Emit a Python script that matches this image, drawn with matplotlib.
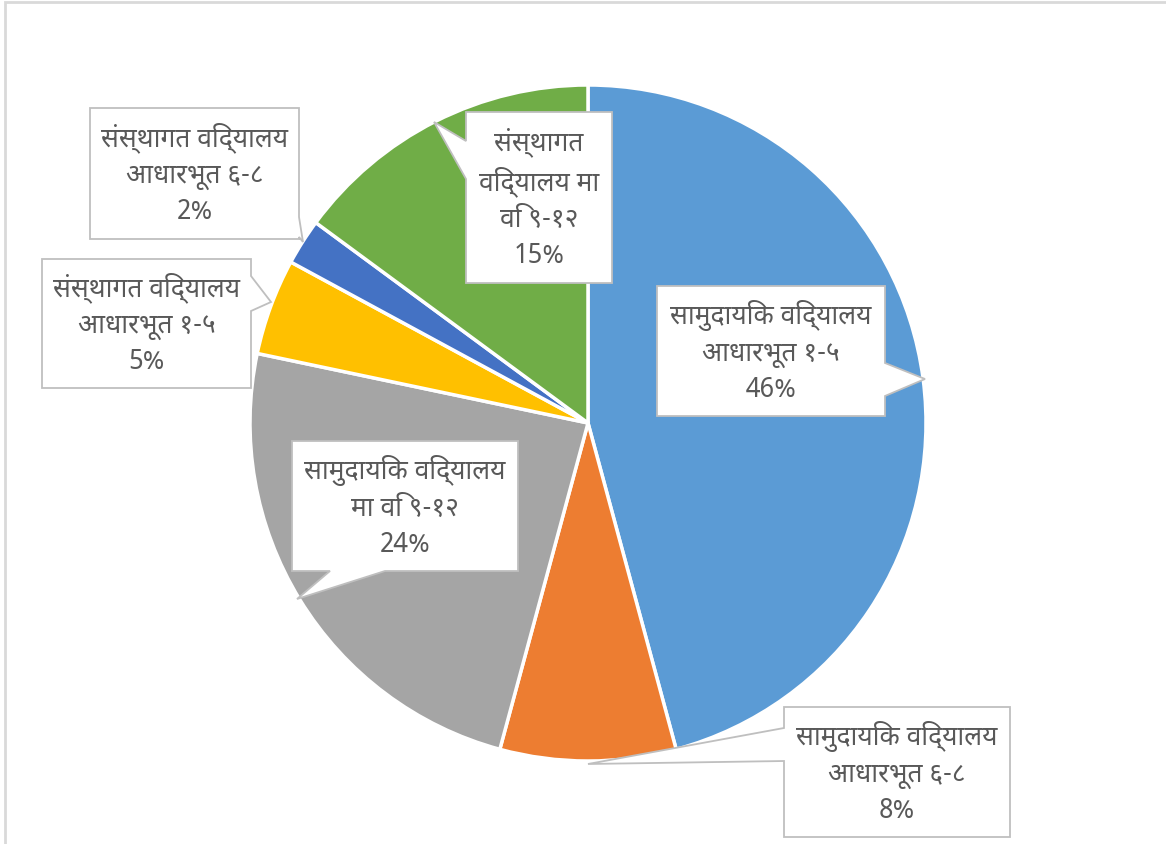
import os
import matplotlib
matplotlib.use("Agg")
import matplotlib.pyplot as plt
from matplotlib import font_manager
from matplotlib.patches import Polygon, Rectangle

# school categories and their share
labels = ["सामुदायिक विद्यालय\nआधारभूत १-५",
          "सामुदायिक विद्यालय\nआधारभूत ६-८",
          "सामुदायिक विद्यालय\nमा वि ९-१२",
          "संस्थागत विद्यालय\nआधारभूत १-५",
          "संस्थागत विद्यालय\nआधारभूत ६-८",
          "संस्थागत\nविद्यालय मा\nवि ९-१२"]
values = [45.8, 8.4, 24.1, 4.6, 2.2, 14.9]
colors = ["#5B9BD5", "#ED7D31", "#A5A5A5", "#FFC000", "#4472C4", "#70AD47"]

# find a font that has devanagari glyphs
deva_family = "DejaVu Sans"
all_fonts = font_manager.findSystemFonts()
for pref in ["NotoSansDevanagari-Regular", "NotoSansDevanagari[", "NotoSansDevanagariUI-Regular",
             "Mukta-Regular", "Hind-Regular", "Khula-Regular", "Palanquin-Regular"]:
    hits = [f for f in all_fonts if os.path.basename(f).startswith(pref)]
    if hits:
        font_manager.fontManager.addfont(hits[0])
        deva_family = font_manager.FontProperties(fname=hits[0]).get_name()
        break

W, H = 1166, 845
fig = plt.figure(figsize=(W / 100, H / 100), dpi=100)
ax = fig.add_axes([0, 0, 1, 1])

def py(y):
    # pixel row -> data y
    return H - y

ax.pie(values, colors=colors, startangle=90, counterclock=False,
       center=(588, py(424)), radius=338,
       wedgeprops=dict(edgecolor="white", linewidth=2.5))
ax.set_xlim(0, W)
ax.set_ylim(0, H)
ax.set_aspect("equal")
ax.axis("off")

# chart border (only left/top visible)
ax.add_patch(Rectangle((5, py(900)), 1300, 897, fill=False, edgecolor="#D9D9D9", linewidth=2, clip_on=True))

# callout boxes: box (x0, y0, x1, y1), side with pointer, pointer base, tip
callouts = [
    ((657, 287, 885, 417), "right", (364, 397), (925, 380)),
    ((784, 708, 1010, 838), "left", (729, 762), (588, 765)),
    ((292, 442, 518, 572), "bottom", (330, 385), (297, 600)),
    ((42, 260, 251, 389), "right", (277, 312), (271, 303)),
    ((90, 109, 299, 240), "right", (218, 238), (303, 243)),
    ((466, 113, 612, 284), "left", (142, 180), (434, 123)),
]

def callout_shape(box, side, base, tip):
    x0, y0, x1, y1 = box
    b0, b1 = base
    if side == "right":
        pts = [(x0, y0), (x1, y0), (x1, b0), tip, (x1, b1), (x1, y1), (x0, y1)]
    elif side == "left":
        pts = [(x0, y0), (x1, y0), (x1, y1), (x0, y1), (x0, b1), tip, (x0, b0)]
    else:
        pts = [(x0, y0), (x1, y0), (x1, y1), (b1, y1), tip, (b0, y1), (x0, y1)]
    return [(x, py(y)) for x, y in pts]

total = sum(values)
for lab, v, (box, side, base, tip) in zip(labels, values, callouts):
    ax.add_patch(Polygon(callout_shape(box, side, base, tip), closed=True,
                         facecolor="white", edgecolor="#BFBFBF", linewidth=1.3, zorder=3))
    cx = (box[0] + box[2]) / 2
    cy = (box[1] + box[3]) / 2
    ax.text(cx, py(cy), lab + "\n" + f"{round(100 * v / total)}%",
            ha="center", va="center", multialignment="center",
            family=[deva_family, "DejaVu Sans"], fontsize=19, color="#595959",
            linespacing=1.4, zorder=4)

fig.savefig("out.png", dpi=100)
